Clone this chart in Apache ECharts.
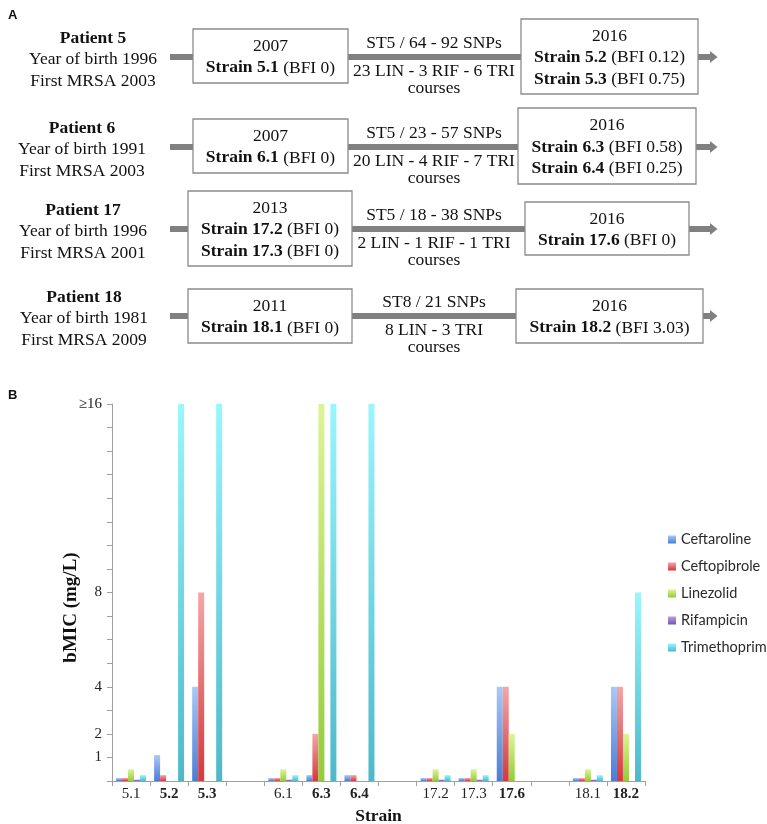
<!DOCTYPE html>
<html><head><meta charset="utf-8">
<script src="https://cdn.jsdelivr.net/npm/echarts@6/dist/echarts.min.js"></script>
<style>html,body{margin:0;padding:0;background:#fff}#c{width:767px;height:824px}</style>
</head><body><div id="c"></div>
<script>
// ---------- Panel B data ----------
const categories = ['5.1', '5.2', '5.3', ' ', '6.1', '6.3', '6.4', '  ', '17.2', '17.3', '17.6', '   ', '18.1', '18.2'];
const boldStrains = ['5.2', '5.3', '6.3', '6.4', '17.6', '18.2'];
const seriesNames = ['Ceftaroline', 'Ceftopibrole', 'Linezolid', 'Rifampicin', 'Trimethoprim'];
const ceftaroline  = [0.125, 1.1, 4, null, 0.125, 0.25, 0.25, null, 0.125, 0.125, 4, null, 0.125, 4];
const ceftobiprole = [0.125, 0.25, 8, null, 0.125, 2, 0.25, null, 0.125, 0.125, 4, null, 0.125, 4];
const linezolid    = [0.5, 0, 0, null, 0.5, 16, 0, null, 0.5, 0.5, 2, null, 0.5, 2];
const rifampicin   = [0.06, 0, 0, null, 0.06, 0, 0, null, 0.06, 0.06, 0, null, 0.06, 0];
const trimethoprim = [0.25, 16, 16, null, 0.25, 16, 16, null, 0.25, 0.25, 0, null, 0.25, 8];
const yTickLabels = [1, 2, 4, 8, 16];

// ---------- Panel A text ----------
const patientNames = ['Patient 5', 'Patient 6', 'Patient 17', 'Patient 18'];
const birthYears = ['1996', '1991', '1996', '1981'];
const firstMrsa = ['2003', '2003', '2001', '2009'];
const firstYears = ['2007', '2007', '2013', '2011'];
const firstStrains = [[['5.1', '0']], [['6.1', '0']], [['17.2', '0'], ['17.3', '0']], [['18.1', '0']]];
const lastYears = ['2016', '2016', '2016', '2016'];
const lastStrains = [[['5.2', '0.12'], ['5.3', '0.75']], [['6.3', '0.58'], ['6.4', '0.25']], [['17.6', '0']], [['18.2', '3.03']]];
const lineages = ['ST5 / 64 - 92 SNPs', 'ST5 / 23 - 57 SNPs', 'ST5 / 18 - 38 SNPs', 'ST8 / 21 SNPs'];
const courses = ['23 LIN - 3 RIF - 6 TRI', '20 LIN - 4 RIF - 7 TRI', '2 LIN - 1 RIF - 1 TRI', '8 LIN - 3 TRI'];

// ---------- layout for panel A ----------
const rowY = [57, 147, 229, 316];
const patientX = [93, 82, 83, 84];
const box1 = [[193, 348, 29, 83], [193, 348, 119, 173], [188, 352, 191, 266], [188, 352, 289, 343]];
const box2 = [[521, 698, 19, 94], [518, 696, 108, 184], [525, 689, 202, 255], [516, 703, 289, 343]];
const SERIF = '"Liberation Serif", "Times New Roman", serif';
const FS = 17.5;
const LINE_COL = '#808080';

function txt(x, y, text, bold, extra) {
  return Object.assign({
    type: 'text', x: x, y: y, z: 20,
    style: {
      text: text, fill: '#111', fontSize: FS, fontFamily: SERIF,
      fontWeight: bold ? 'bold' : 'normal', align: 'center', verticalAlign: 'middle',
      rich: { b: { fontSize: FS, fontFamily: SERIF, fontWeight: 'bold', fill: '#111' },
              n: { fontSize: FS, fontFamily: SERIF, fontWeight: 'normal', fill: '#111' } }
    }
  }, extra || {});
}

const graphics = [];
graphics.push({ type: 'text', x: 8, y: 15, z: 20, style: { text: 'A', fill: '#111', fontSize: 13, fontWeight: 'bold', fontFamily: '"Liberation Sans", Arial, sans-serif', verticalAlign: 'middle' } });
graphics.push({ type: 'text', x: 8, y: 395, z: 20, style: { text: 'B', fill: '#111', fontSize: 13, fontWeight: 'bold', fontFamily: '"Liberation Sans", Arial, sans-serif', verticalAlign: 'middle' } });

for (let i = 0; i < 4; i++) {
  const y = rowY[i];
  const b1 = box1[i], b2 = box2[i];
  graphics.push({ type: 'line', z: 5, shape: { x1: 170, y1: y, x2: b1[0], y2: y }, style: { stroke: LINE_COL, lineWidth: 6 } });
  graphics.push({ type: 'line', z: 5, shape: { x1: b1[1], y1: y, x2: b2[0], y2: y }, style: { stroke: LINE_COL, lineWidth: 6 } });
  graphics.push({ type: 'line', z: 5, shape: { x1: b2[1], y1: y, x2: 711, y2: y }, style: { stroke: LINE_COL, lineWidth: 6 } });
  graphics.push({ type: 'polygon', z: 5, shape: { points: [[710, y - 6], [717.5, y], [710, y + 6]] }, style: { fill: LINE_COL } });
  graphics.push({ type: 'rect', z: 10, shape: { x: b1[0], y: b1[2], width: b1[1] - b1[0], height: b1[3] - b1[2] }, style: { fill: '#fff', stroke: '#8c8c8c', lineWidth: 1.3 } });
  graphics.push({ type: 'rect', z: 10, shape: { x: b2[0], y: b2[2], width: b2[1] - b2[0], height: b2[3] - b2[2] }, style: { fill: '#fff', stroke: '#8c8c8c', lineWidth: 1.3 } });
  graphics.push(txt(patientX[i], y - 19, patientNames[i], true));
  graphics.push(txt(patientX[i], y + 2.5, 'Year of birth ' + birthYears[i], false));
  graphics.push(txt(patientX[i], y + 24, 'First MRSA ' + firstMrsa[i], false));
  graphics.push(txt(434, y - 14, lineages[i], false));
  graphics.push(txt(434, y + 14, courses[i], false));
  graphics.push(txt(434, y + 31, 'courses', false));
  function boxText(b, year, strains) {
    const lines = ['{n|' + year + '}'].concat(strains.map(s => '{b|Strain ' + s[0] + '}{n| (BFI ' + s[1] + ')}'));
    const cx = (b[0] + b[1]) / 2, cy = (b[2] + b[3]) / 2;
    const n = lines.length;
    lines.forEach((l, k) => {
      graphics.push(txt(cx, cy + (k - (n - 1) / 2) * 21.5 + 1.2, l, false));
    });
  }
  boxText(b1, firstYears[i], firstStrains[i]);
  boxText(b2, lastYears[i], lastStrains[i]);
}

// ---------- Panel B ----------
const gradients = [
  ['#a9c9f6', '#4a7dd3'],
  ['#f5a6a6', '#d5383c'],
  ['#dcf594', '#95cb3a'],
  ['#b4a0e2', '#7156b4'],
  ['#98f6fd', '#4cb9ca']
];
const seriesData = [ceftaroline, ceftobiprole, linezolid, rifampicin, trimethoprim];

const chart = echarts.init(document.getElementById('c'), null, { renderer: 'canvas' });
chart.setOption({
  animation: false,
  backgroundColor: '#fff',
  graphic: graphics,
  grid: { left: 112, right: 122, top: 404, bottom: 43, containLabel: false, outerBoundsMode: 'none' },
  legend: {
    orient: 'vertical', left: 663, top: 527,
    itemWidth: 8, itemHeight: 8, itemGap: 12,
    icon: 'rect',
    data: seriesNames,
    textStyle: { fontSize: 14.5, lineHeight: 14, color: '#2a2a2a', fontFamily: 'Lato, "Open Sans", sans-serif' }
  },
  xAxis: {
    type: 'category', data: categories,
    axisLine: { lineStyle: { color: '#a0a0a0', width: 1 } },
    axisTick: { show: true, interval: 0, length: 5, lineStyle: { color: '#a0a0a0' } },
    axisLabel: {
      interval: 0, margin: 6, fontSize: 15, fontFamily: SERIF, color: '#222',
      formatter: function (v) {
        const t = v.trim();
        if (!t) return '';
        return boldStrains.indexOf(t) >= 0 ? '{b|' + t + '}' : t;
      },
      rich: { b: { fontWeight: 'bold', fontSize: 15, fontFamily: SERIF, color: '#222' } }
    },
    name: 'Strain', nameLocation: 'middle', nameGap: 26, nameMoveOverlap: false,
    nameTextStyle: { fontSize: 17.5, fontWeight: 'bold', fontFamily: SERIF, color: '#111' }
  },
  yAxis: {
    type: 'value', min: 0, max: 16, interval: 1,
    splitLine: { show: false },
    axisLine: { show: true, lineStyle: { color: '#a0a0a0', width: 1 } },
    axisTick: { show: true, length: 5, lineStyle: { color: '#a0a0a0' } },
    axisLabel: {
      margin: 10, fontSize: 15, fontFamily: SERIF, color: '#222',
      formatter: function (v) {
        if (yTickLabels.indexOf(v) < 0) return '';
        return v === 16 ? '≥16' : String(v);
      }
    },
    name: 'bMIC (mg/L)', nameLocation: 'middle', nameGap: 31, nameRotate: 90, nameMoveOverlap: false,
    nameTextStyle: { fontSize: 19, fontWeight: 'bold', fontFamily: SERIF, color: '#111', padding: [0, 30, 0, 0] }
  },
  series: seriesNames.map((name, i) => ({
    name: name, type: 'bar', data: seriesData[i],
    barWidth: 6, barGap: '0%',
    itemStyle: {
      color: { type: 'linear', x: 0, y: 0, x2: 0, y2: 1, colorStops: [
        { offset: 0, color: gradients[i][0] }, { offset: 1, color: gradients[i][1] }] }
    }
  }))
});
</script>
</body></html>
